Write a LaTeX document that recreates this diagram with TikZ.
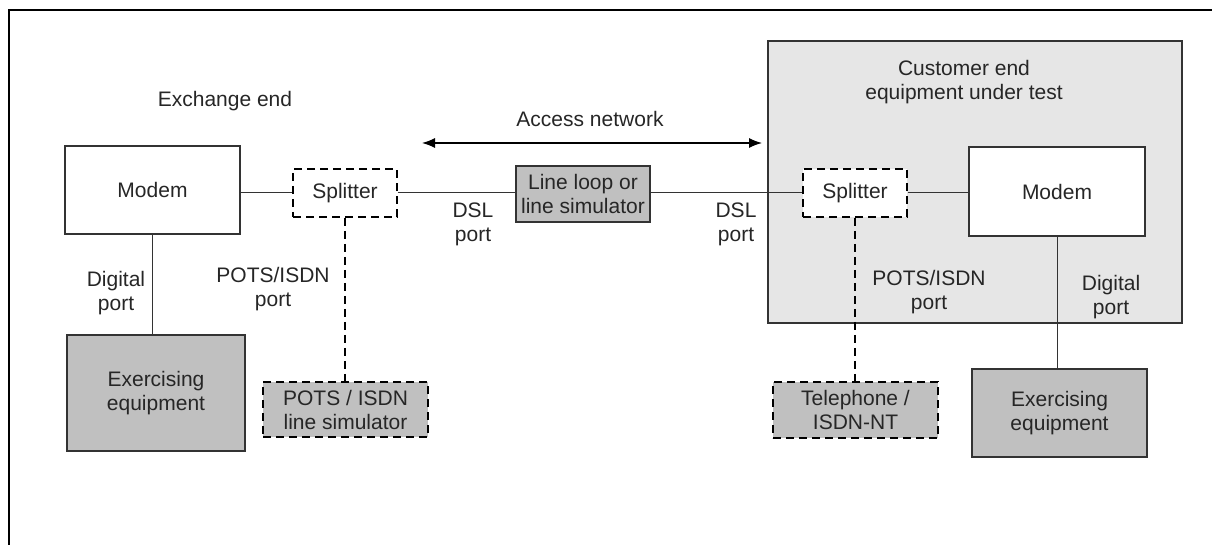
\documentclass[tikz,border=0pt]{standalone}
\usepackage{fontspec}
\setmainfont{Liberation Sans}
\usetikzlibrary{arrows.meta}
\definecolor{boxgray}{HTML}{C0C0C0}
\definecolor{custgray}{HTML}{E6E6E6}
\definecolor{txt}{HTML}{262626}
\definecolor{edge}{HTML}{333333}
\begin{document}
\begin{tikzpicture}[x=1pt,y=-1pt,
  every node/.style={font=\fontsize{21}{24}\selectfont, text=txt, align=center, inner sep=0pt},
  solidbox/.style={draw=edge, line width=1.4pt, minimum width=#1},
  dashbox/.style={draw=black, line width=1.6pt, dash pattern=on 8pt off 5pt},
  conn/.style={draw=edge, line width=1pt},
  dconn/.style={draw=black, line width=1.6pt, dash pattern=on 8pt off 5pt}]
\useasboundingbox (0,0) rectangle (1212,545);
% frame
\draw[line width=2.5pt] (9,545) -- (9,10) -- (1212,10);
% customer box
\filldraw[fill=custgray, draw=edge, line width=1.3pt] (768,41) rectangle (1182,323);
% nodes
\node[solidbox=175pt, minimum height=88pt, fill=white] (modemL) at (152.5,190) {Modem};
\node[solidbox=178pt, minimum height=116pt, fill=boxgray] (exL) at (156,393) {Exercising\\equipment};
\node[dashbox, minimum width=104pt, minimum height=48pt, fill=white] (splL) at (345,193) {Splitter};
\node[dashbox, minimum width=165pt, minimum height=55pt, fill=boxgray] (potsL) at (345.5,409.5) {POTS / ISDN\\line simulator};
\node[solidbox=134pt, minimum height=56pt, fill=boxgray] (loop) at (583,194) {Line loop or\\line simulator};
\node[dashbox, minimum width=104pt, minimum height=48pt, fill=white] (splR) at (855,193) {Splitter};
\node[solidbox=176pt, minimum height=89pt, fill=white] (modemR) at (1057,191.5) {Modem};
\node[dashbox, minimum width=165pt, minimum height=56pt, fill=boxgray] (tel) at (855.5,410) {Telephone /\\ISDN-NT};
\node[solidbox=175pt, minimum height=88pt, fill=boxgray] (exR) at (1059.5,413) {Exercising\\equipment};
% labels
\node[anchor=base] (exch) at (225,107) {Exchange end};
\node[anchor=base] (acc) at (590,127) {Access network};
\node (cust) at (964,82.5) {Customer end\\equipment under test};
\node (digL) at (116,292.6) {Digital\\port};
\node (potsLl) at (273,289) {POTS/ISDN\\port};
\node (dslL) at (473,224) {DSL\\port};
\node (dslR) at (736,224) {DSL\\port};
\node (potsRl) at (929,292) {POTS/ISDN\\port};
\node (digR) at (1111,297) {Digital\\port};
% connectors
\draw[conn] (splL.west) -- (splL.west -| modemL.east);
\draw[conn] (splL.east) -- (loop.west |- splL.east);
\draw[conn] (loop.east |- splR.west) -- (splR.west);
\draw[conn] (splR.east) -- (splR.east -| modemR.west);
\draw[conn] (modemL.south) -- (modemL.south |- exL.north);
\draw[conn] (modemR.south) -- (modemR.south |- exR.north);
\draw[dconn] (splL.south) -- (splL.south |- potsL.north);
\draw[dconn] (splR.south) -- (splR.south |- tel.north);
% access network arrow
\coordinate (anL) at (422,143);
\coordinate (anR) at (762,143);
\draw[line width=1.2pt, {Latex[length=13pt,width=10pt]}-{Latex[length=13pt,width=10pt]}] (anL) -- (anR);
\end{tikzpicture}
\end{document}
